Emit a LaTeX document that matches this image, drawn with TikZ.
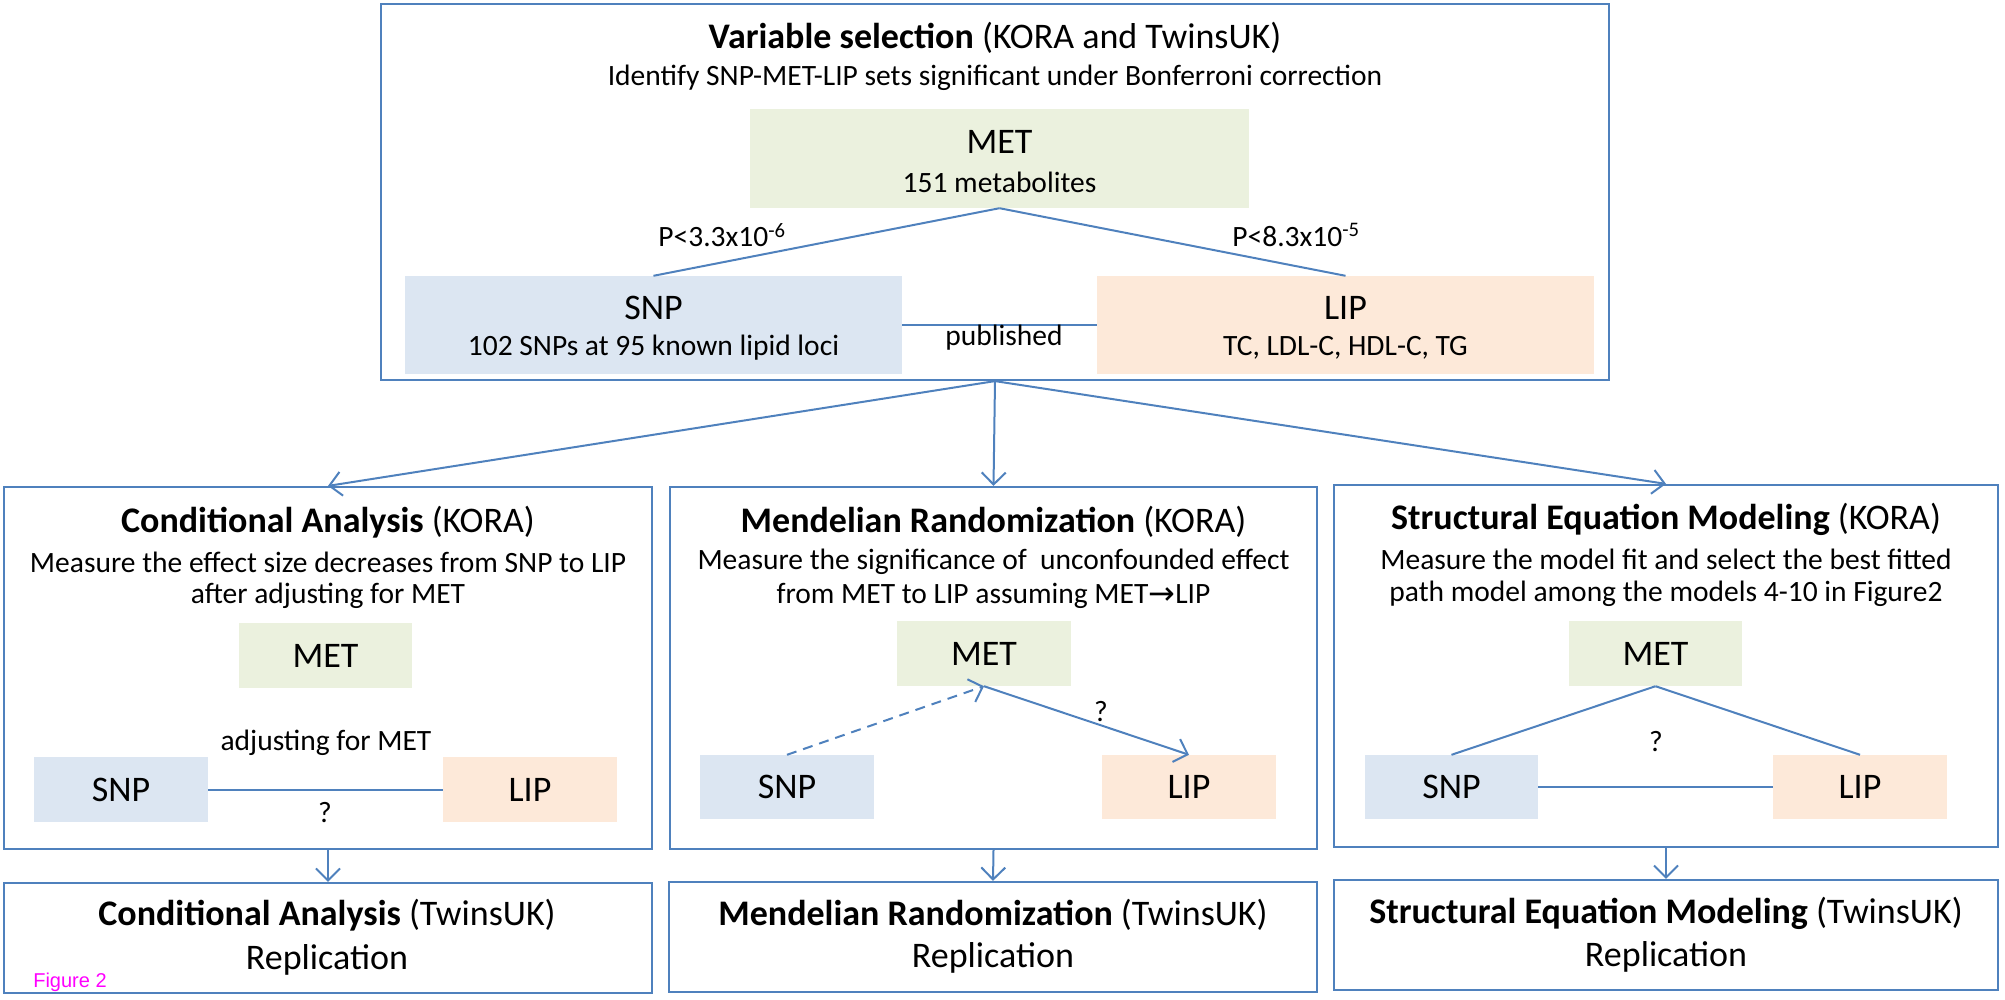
\documentclass[tikz,border=0pt]{standalone}
\usepackage{fontspec}
\setmainfont{Carlito}
\newfontfamily\symfont{DejaVu Sans}
\newfontfamily\figfont{Liberation Sans}
\usetikzlibrary{arrows.meta}
\definecolor{lineblue}{HTML}{4F81BD}
\definecolor{metfill}{HTML}{EBF1DE}
\definecolor{snpfill}{HTML}{DCE6F2}
\definecolor{lipfill}{HTML}{FDE9D9}
\definecolor{figmag}{HTML}{FF00FF}
\begin{document}
\begin{tikzpicture}[x=1pt,y=-1pt,
  frame/.style={draw=lineblue, line width=2.2pt, inner sep=0pt},
  metbox/.style={fill=metfill, inner sep=0pt},
  snpbox/.style={fill=snpfill, inner sep=0pt},
  lipbox/.style={fill=lipfill, inner sep=0pt},
  conn/.style={draw=lineblue, line width=2pt},
  arr/.style={conn, -{Straight Barb[length=12pt,width=24pt]}},
  big/.style={font=\fontsize{36}{40}\selectfont, inner sep=0pt},
  txt/.style={font=\fontsize{29.5}{34}\selectfont, inner sep=0pt},
]
\useasboundingbox (0,0) rectangle (2005,1000);

% ---------- top box ----------
\node[frame, minimum width=1228pt, minimum height=376pt] (top) at (995,192) {};
\node[big] (t0title) at (995,38) {\textbf{Variable selection} (KORA and TwinsUK)};
\node[txt] (t0sub) at (995,78) {Identify SNP-MET-LIP sets significant under Bonferroni correction};
\node[metbox, minimum width=499pt, minimum height=99pt] (met0) at (999.5,158.5) {};
\node[big] (met0a) at (999.5,142) {MET};
\node[txt] (met0b) at (999.5,182) {151 metabolites};
\node[snpbox, minimum width=497pt, minimum height=98pt] (snp0) at (653.5,325) {};
\node[big] (snp0a) at (653.5,308) {SNP};
\node[txt] (snp0b) at (653.5,348) {102 SNPs at 95 known lipid loci};
\node[lipbox, minimum width=497pt, minimum height=98pt] (lip0) at (1345.5,325) {};
\node[big] (lip0a) at (1345.5,308) {LIP};
\node[txt] (lip0b) at (1345.5,348) {TC, LDL-C, HDL-C, TG};
\draw[conn] (met0.south) -- (snp0.north);
\draw[conn] (met0.south) -- (lip0.north);
\draw[conn] (snp0.east) -- (lip0.west);
\node[txt] (p1) at (722,235) {P<3.3x10\textsuperscript{-6}};
\node[txt] (p2) at (1296,235) {P<8.3x10\textsuperscript{-5}};
\node[txt] (pub) at (1004,338) {published};

% ---------- middle boxes ----------
\node[frame, minimum width=648pt, minimum height=362pt] (ca) at (328,668) {};
\node[frame, minimum width=647pt, minimum height=362pt] (mr) at (993.5,668) {};
\node[frame, minimum width=664pt, minimum height=362pt] (sem) at (1666,666) {};

\draw[arr] (top.south) -- (ca.north);
\draw[arr] (top.south) -- (mr.north);
\draw[arr] (top.south) -- (sem.north);

% Conditional analysis
\node[big] (catitle) at (328,522) {\textbf{Conditional Analysis} (KORA)};
\node[txt] (ca1) at (328,562) {Measure the effect size decreases from SNP to LIP};
\node[txt] (ca2) at (328,596) {after adjusting for MET};
\node[metbox, minimum width=173pt, minimum height=65pt] (metA) at (325.5,655.5) {};
\node[big] (metAt) at (325.5,655.5) {MET};
\node[snpbox, minimum width=174pt, minimum height=65pt] (snpA) at (121,789.5) {};
\node[big] (snpAt) at (121,789.5) {SNP};
\node[lipbox, minimum width=174pt, minimum height=65pt] (lipA) at (530,789.5) {};
\node[big] (lipAt) at (530,789.5) {LIP};
\draw[conn] (snpA.east) -- (lipA.west);
\node[txt] (adj) at (326,743) {adjusting for MET};
\node[txt] (qA) at (325,813) {?};

% Mendelian randomization
\node[big] (mrtitle) at (993.5,522) {\textbf{Mendelian Randomization} (KORA)};
\node[txt] (mr1) at (993.5,562) {Measure the significance of~ unconfounded effect};
\node[txt] (mr2) at (993.5,596) {from MET to LIP assuming MET\raisebox{-1pt}{\symfont\fontsize{32}{34}\selectfont →}LIP};
\node[metbox, minimum width=174pt, minimum height=65pt] (metB) at (984,653.5) {};
\node[big] (metBt) at (984,653.5) {MET};
\node[snpbox, minimum width=174pt, minimum height=64pt] (snpB) at (787,787) {};
\node[big] (snpBt) at (787,787) {SNP};
\node[lipbox, minimum width=174pt, minimum height=64pt] (lipB) at (1189,787) {};
\node[big] (lipBt) at (1189,787) {LIP};
\draw[arr, dash pattern=on 10pt off 7pt] (snpB.north) -- (metB.south);
\draw[arr] (metB.south) -- (lipB.north);
\node[txt] (qB) at (1101,712) {?};

% Structural equation modeling
\node[big] (semtitle) at (1666,519) {\textbf{Structural Equation Modeling} (KORA)};
\node[txt] (sem1) at (1666,559) {Measure the model fit and select the best fitted};
\node[txt] (sem2) at (1666,594) {path model among the models 4-10 in Figure2};
\node[metbox, minimum width=173pt, minimum height=65pt] (metC) at (1655.5,653.5) {};
\node[big] (metCt) at (1655.5,653.5) {MET};
\node[snpbox, minimum width=173pt, minimum height=64pt] (snpC) at (1451.5,787) {};
\node[big] (snpCt) at (1451.5,787) {SNP};
\node[lipbox, minimum width=174pt, minimum height=64pt] (lipC) at (1860,787) {};
\node[big] (lipCt) at (1860,787) {LIP};
\draw[conn] (metC.south) -- (snpC.north);
\draw[conn] (metC.south) -- (lipC.north);
\draw[conn] (snpC.east) -- (lipC.west);
\node[txt] (qC) at (1656,742) {?};

% ---------- replication boxes ----------
\node[frame, minimum width=648pt, minimum height=110pt] (carep) at (328,938) {};
\node[frame, minimum width=648pt, minimum height=110pt] (mrrep) at (993,937) {};
\node[frame, minimum width=664pt, minimum height=110pt] (semrep) at (1666,935) {};
\draw[arr] (ca.south) -- (carep.north);
\draw[arr] (mr.south) -- (mrrep.north);
\draw[arr] (sem.south) -- (semrep.north);
\node[big] (carep1) at (327,915) {\textbf{Conditional Analysis} (TwinsUK)};
\node[big] (carep2) at (327,960) {Replication};
\node[big] (mrrep1) at (993,915) {\textbf{Mendelian Randomization} (TwinsUK)};
\node[big] (mrrep2) at (993,958) {Replication};
\node[big] (semrep1) at (1666,913) {\textbf{Structural Equation Modeling} (TwinsUK)};
\node[big] (semrep2) at (1666,957) {Replication};

\node[font=\figfont\fontsize{20}{24}\selectfont, text=figmag, inner sep=0pt] (fig) at (70,982) {Figure 2};
\end{tikzpicture}
\end{document}
